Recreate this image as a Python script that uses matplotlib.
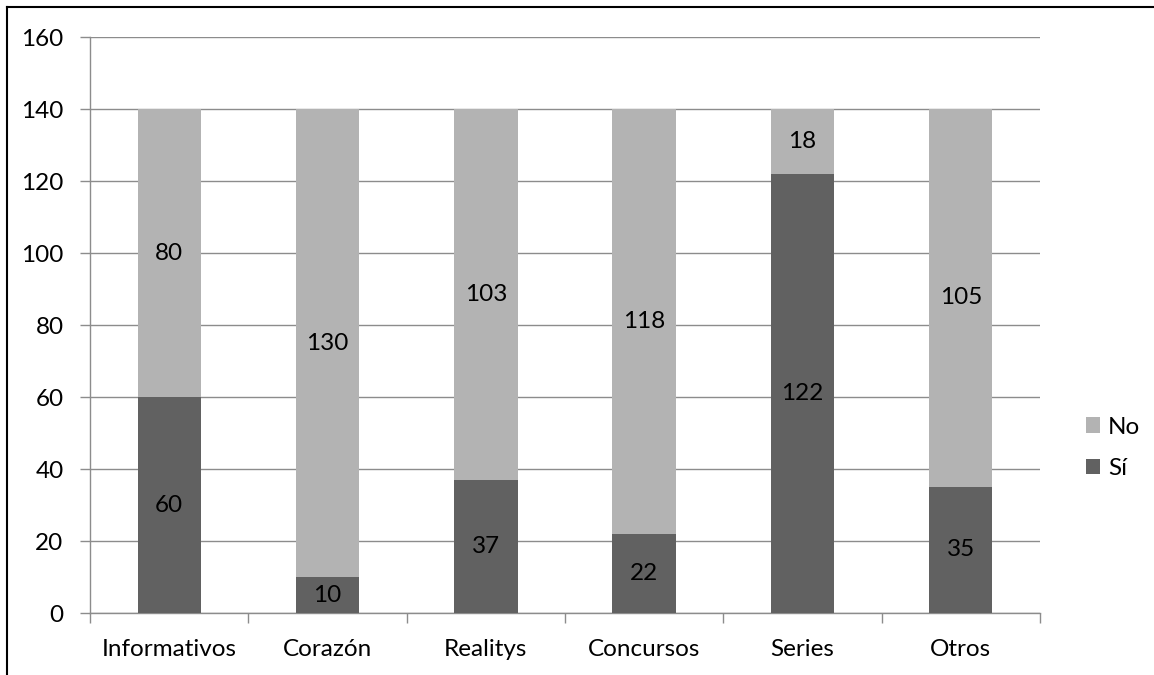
import matplotlib
matplotlib.use('Agg')
import matplotlib.pyplot as plt
import numpy as np
from matplotlib.patches import Patch
from matplotlib.lines import Line2D

categories = ['Informativos', 'Corazón', 'Realitys', 'Concursos', 'Series', 'Otros']
si = [60, 10, 37, 22, 122, 35]
no = [80, 130, 103, 118, 18, 105]

dark = '#616161'
light = '#b3b3b3'
grid_col = '#8c8c8c'
fs = 17.5

plt.rcParams['font.family'] = ['Lato', 'DejaVu Sans']

fig = plt.figure(figsize=(11.54, 6.75), dpi=100)
ax = fig.add_axes([90 / 1154, 62 / 675, 950 / 1154, 576 / 675])

x = np.arange(len(categories))
w = 0.4
b1 = ax.bar(x, si, w, color=dark, zorder=3)
b2 = ax.bar(x, no, w, bottom=si, color=light, zorder=3)

for i in range(len(categories)):
    ax.text(x[i], si[i] / 2, str(si[i]), ha='center', va='center', fontsize=fs, zorder=4)
    ax.text(x[i], si[i] + no[i] / 2, str(no[i]), ha='center', va='center', fontsize=fs, zorder=4)

ax.set_xlim(-0.5, len(categories) - 0.5)
ax.set_ylim(0, 160)
ax.set_yticks(range(0, 161, 20))
ax.yaxis.grid(True, color=grid_col, linewidth=1, zorder=0)
ax.set_xticks(x)
ax.set_xticklabels(categories, fontsize=fs)
ax.set_xticks(np.arange(-0.5, len(categories)), minor=True)
ax.tick_params(axis='x', which='major', length=0, pad=19)
ax.tick_params(axis='x', which='minor', length=7, color=grid_col, width=1)
ax.tick_params(axis='y', length=7, color=grid_col, width=1, labelsize=fs, pad=12)

for s in ['top', 'right']:
    ax.spines[s].set_visible(False)
for s in ['left', 'bottom']:
    ax.spines[s].set_color(grid_col)
    ax.spines[s].set_linewidth(1)

handles = [Patch(facecolor=light, label='No'), Patch(facecolor=dark, label='Sí')]
fig.legend(handles=handles, loc='center left', bbox_to_anchor=(1064 / 1154, 1 - 448 / 675),
           frameon=False, fontsize=fs, handlelength=0.6, handleheight=0.6,
           handletextpad=0.3, labelspacing=0.85)

# outer frame: top and left edges
fig.add_artist(Line2D([7 / 1154, 1], [1 - 7 / 675, 1 - 7 / 675], color='black', linewidth=1.5))
fig.add_artist(Line2D([7 / 1154, 7 / 1154], [0, 1 - 7 / 675], color='black', linewidth=1.5))

fig.savefig('out.png', dpi=100)
